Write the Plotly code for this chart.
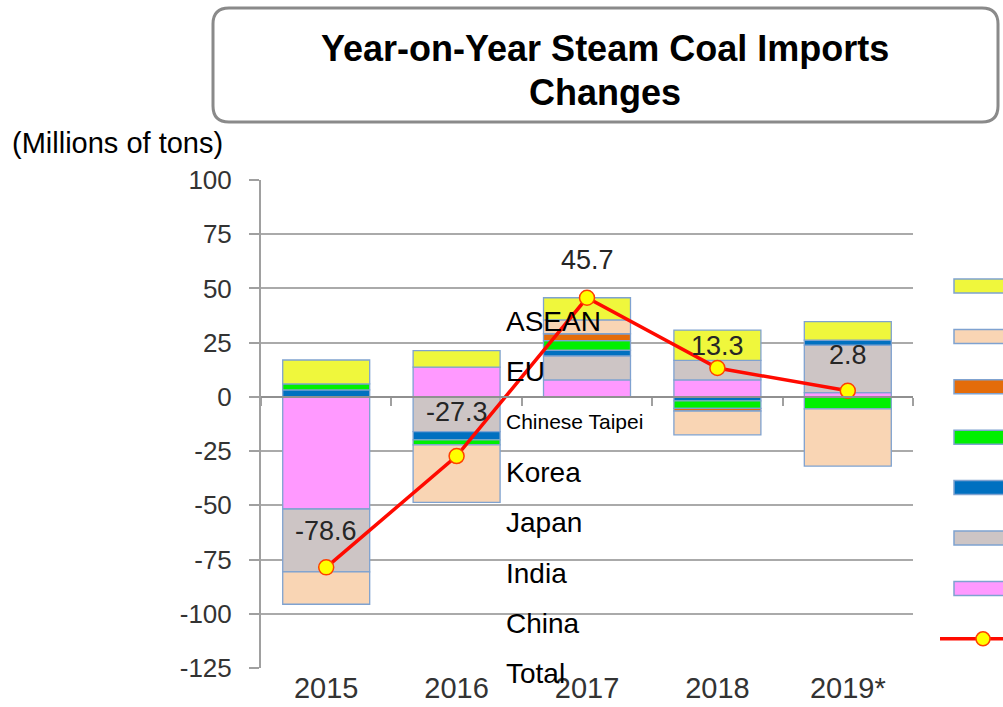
import plotly.graph_objects as go

# ---------------- data ----------------
years = ["2015", "2016", "2017", "2018", "2019*"]
china = [-51.7, 13.7, 7.8, 7.8, 2.0]
india = [-29.0, -16.0, 11.1, 9.0, 21.9]
japan = [3.2, -3.8, 2.6, -1.8, 2.3]
korea = [2.8, -2.3, 4.4, -3.5, -5.5]
taipei = [None, None, 3.2, -1.2, None]
eu = [-14.9, -26.5, 6.4, -11.0, -26.4]
asean = [11.0, 7.6, 10.2, 14.0, 8.5]
total = [-78.6, -27.3, 45.7, 13.3, 2.8]
total_labels = ["-78.6", "-27.3", "45.7", "13.3", "2.8"]
y_ticks = [100, 75, 50, 25, 0, -25, -50, -75, -100, -125]

legend_names = ["ASEAN", "EU", "Chinese Taipei", "Korea", "Japan", "India", "China", "Total"]

# ---------------- styling ----------------
W, H = 1003, 707
L, R, T, B = 261, 913, 180, 668
FONT = "Liberation Sans, Arial, sans-serif"
BORDER = "#7FA2D0"

colors = {
    "China": "#FF99FF",
    "India": "#CDC5C5",
    "Japan": "#0070C0",
    "Korea": "#00F000",
    "Chinese Taipei": "#E46C0A",
    "EU": "#F9D5B4",
    "ASEAN": "#EFF73C",
}


def px(x):
    return (x - L) / (R - L)


def py(y):
    return (B - y) / (B - T)


fig = go.Figure()

series = [("China", china), ("India", india), ("Japan", japan), ("Korea", korea),
          ("Chinese Taipei", taipei), ("EU", eu), ("ASEAN", asean)]
for name, vals in series:
    fig.add_trace(go.Bar(
        x=years, y=vals, name=name,
        marker=dict(color=colors[name], line=dict(color=BORDER, width=1.3)),
        showlegend=False,
    ))

fig.add_trace(go.Scatter(
    x=years, y=total, name="Total", mode="lines+markers",
    line=dict(color="#FF0A00", width=3.5),
    marker=dict(size=15, color="#FFFF00", line=dict(color="#FF4000", width=1.5)),
    showlegend=False,
))

# total value labels (x given as category index)
label_shift = [36, 44, 38, 22, 36]
for i, (v, txt, dy) in enumerate(zip(total, total_labels, label_shift)):
    fig.add_annotation(x=i, y=v, xref="x", yref="y", text=txt, showarrow=False, yshift=dy,
                       font=dict(family=FONT, size=27, color="#262626"))

fig.update_layout(
    width=W, height=H,
    margin=dict(l=L, r=W - R, t=T, b=H - B, autoexpand=False),
    paper_bgcolor="white", plot_bgcolor="white",
    barmode="relative", bargap=0.333,
    showlegend=False,
    xaxis=dict(
        type="category", range=[-0.5, len(years) - 0.5], automargin=False,
        showgrid=False, showline=False, ticks="", ticklabelstandoff=0,
        tickfont=dict(family=FONT, size=29, color="#333333"),
    ),
    xaxis2=dict(
        overlaying="x", anchor="free", position=py(397), automargin=False,
        range=[-0.5, len(years) - 0.5],
        tickvals=[i - 0.5 for i in range(len(years) + 1)],
        showticklabels=False, ticks="outside", ticklen=8, tickwidth=2,
        tickcolor="#A0A0A0", showline=True, linecolor="#909090", linewidth=2,
        showgrid=False, zeroline=False,
    ),
    yaxis=dict(
        range=[-125, 100], tickvals=y_ticks, ticktext=[str(t) for t in y_ticks],
        automargin=False,
        showgrid=True, gridcolor="#AAAAAA", gridwidth=2,
        zeroline=False, showline=True, linecolor="#A0A0A0", linewidth=2,
        ticks="outside", ticklen=10, tickwidth=2, tickcolor="#A0A0A0",
        ticklabelstandoff=12,
        tickfont=dict(family=FONT, size=26, color="#333333"),
    ),
)

# dummy trace to activate xaxis2
fig.add_trace(go.Scatter(x=[None], y=[None], xaxis="x2", showlegend=False, hoverinfo="skip"))

shapes = []
annotations = []

# title rounded box
x0, x1, y0, y1, r = 213, 998, 8, 122, 16
pts = lambda x, y: f"{px(x)},{py(y)}"
path = (f"M {pts(x0 + r, y0)} L {pts(x1 - r, y0)} Q {pts(x1, y0)} {pts(x1, y0 + r)} "
        f"L {pts(x1, y1 - r)} Q {pts(x1, y1)} {pts(x1 - r, y1)} "
        f"L {pts(x0 + r, y1)} Q {pts(x0, y1)} {pts(x0, y1 - r)} "
        f"L {pts(x0, y0 + r)} Q {pts(x0, y0)} {pts(x0 + r, y0)} Z")
shapes.append(dict(type="path", xref="paper", yref="paper", path=path,
                   line=dict(color="#8A8A8A", width=3), fillcolor="white", layer="below"))

annotations.append(dict(xref="paper", yref="paper", x=px(605), y=py(48), text="<b>Year-on-Year Steam Coal Imports</b>",
                        showarrow=False, xanchor="center", yanchor="middle",
                        font=dict(family=FONT, size=36, color="black")))
annotations.append(dict(xref="paper", yref="paper", x=px(605), y=py(92), text="<b>Changes</b>",
                        showarrow=False, xanchor="center", yanchor="middle",
                        font=dict(family=FONT, size=36, color="black")))
annotations.append(dict(xref="paper", yref="paper", x=px(10), y=py(143), text="(Millions of tons)",
                        showarrow=False, xanchor="left", yanchor="middle",
                        font=dict(family=FONT, size=29, color="black")))

# legend swatches (cut at right edge) and detached labels
pitch = 50.4
for i, name in enumerate(legend_names):
    sy = 286 + i * pitch
    ly = 321 + i * pitch
    if name == "Total":
        shapes.append(dict(type="line", xref="paper", yref="paper",
                           x0=px(940), x1=px(1010), y0=py(sy), y1=py(sy),
                           line=dict(color="#FF0A00", width=3.5)))
        shapes.append(dict(type="circle", xref="paper", yref="paper",
                           x0=px(976), x1=px(990), y0=py(sy + 7), y1=py(sy - 7),
                           fillcolor="#FFFF00", line=dict(color="#FF4000", width=1.5)))
    else:
        shapes.append(dict(type="rect", xref="paper", yref="paper",
                           x0=px(954), x1=px(1012), y0=py(sy + 7), y1=py(sy - 7),
                           fillcolor=colors[name], line=dict(color=BORDER, width=1.5)))
    annotations.append(dict(xref="paper", yref="paper", x=px(504), y=py(ly), text=name,
                            showarrow=False, xanchor="left", yanchor="middle",
                            font=dict(family=FONT, size=21 if name == "Chinese Taipei" else 28,
                                      color="black")))

fig.update_layout(shapes=shapes)
for a in annotations:
    fig.add_annotation(**a)

fig.write_html("out.html", config={"displayModeBar": False},
               post_script="document.body.style.margin='0';document.body.style.overflow='hidden';")
